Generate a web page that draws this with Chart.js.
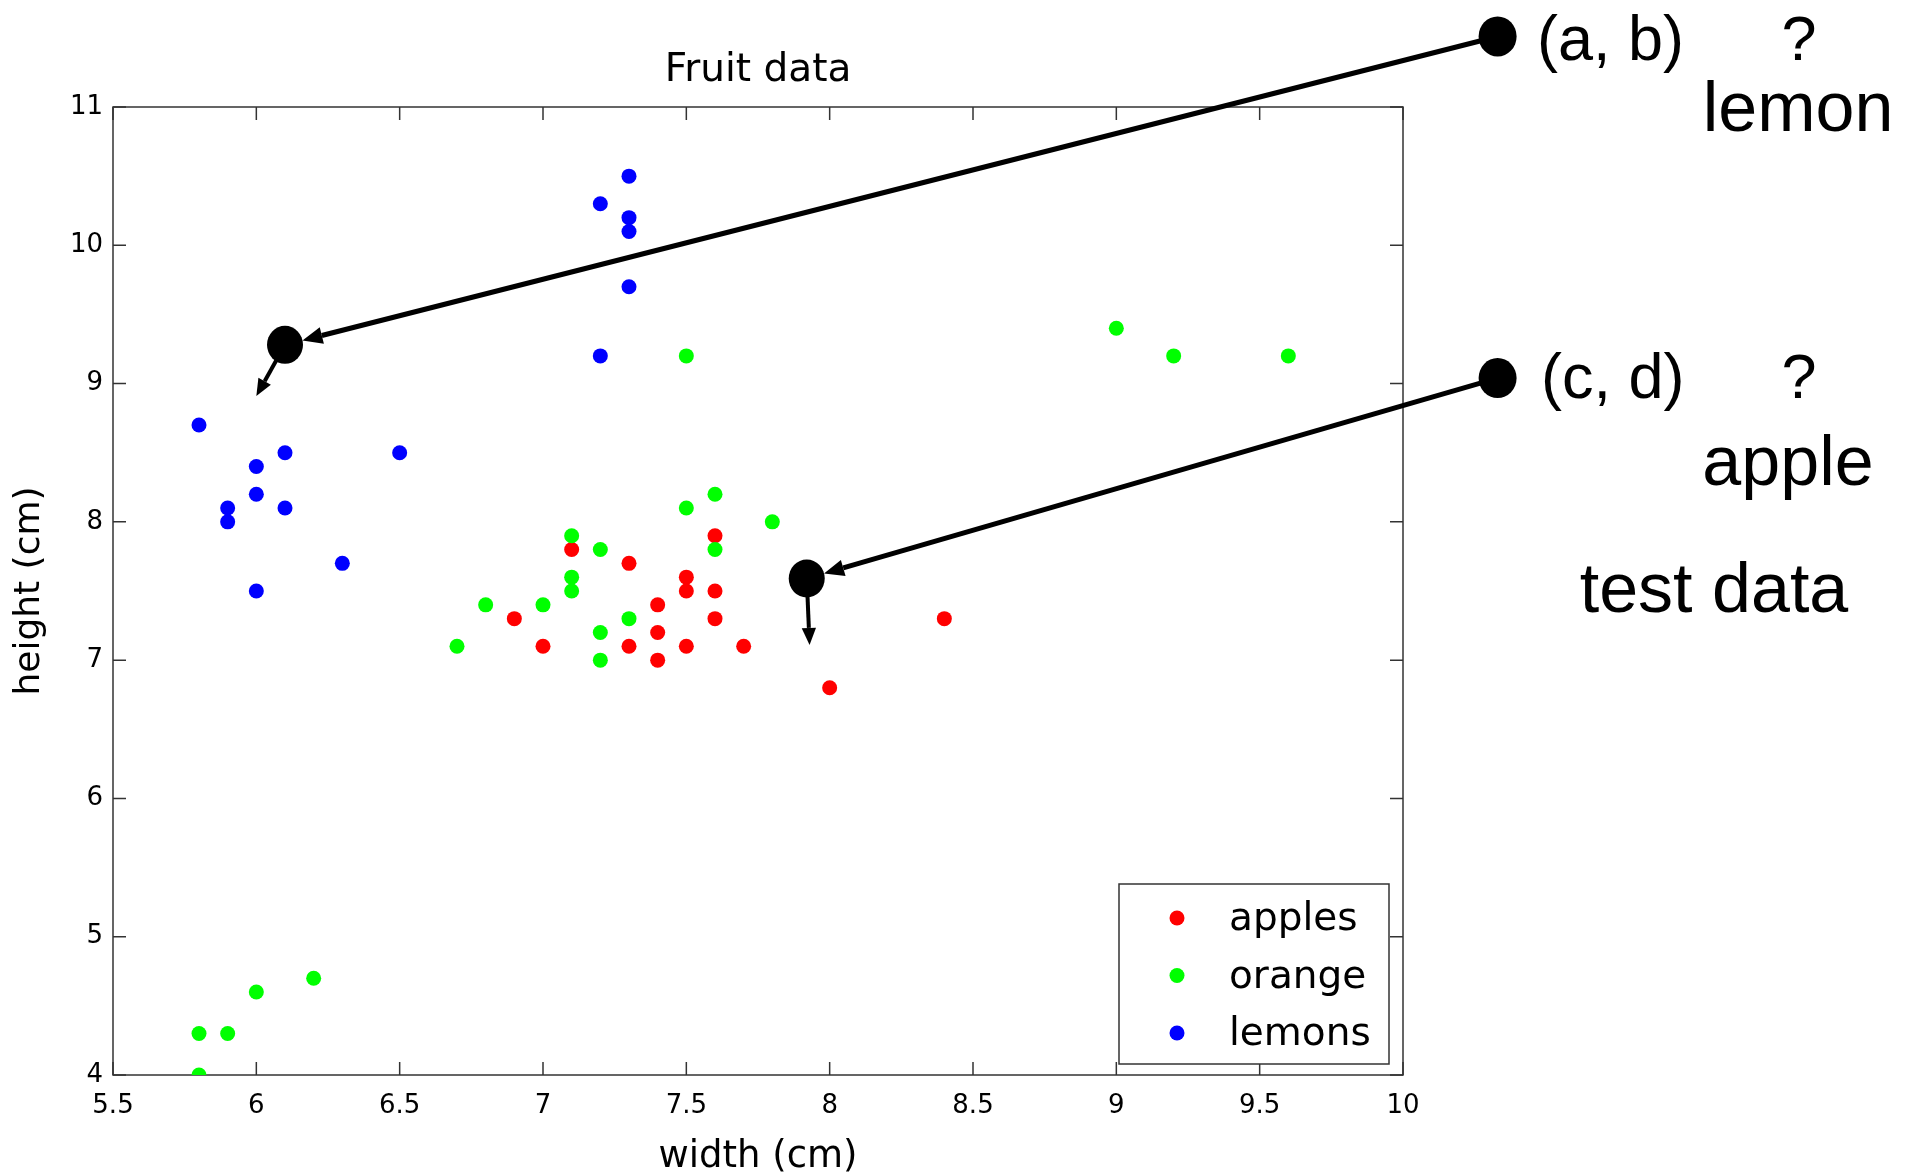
<!DOCTYPE html>
<html>
<head>
<meta charset="utf-8">
<title>Fruit data</title>
<script src="https://cdn.jsdelivr.net/npm/chart.js@4.4.1/dist/chart.umd.min.js"></script>
<style>
  html, body { margin: 0; padding: 0; background: #fff; }
  #wrap { position: relative; width: 1910px; height: 1175px; overflow: hidden; }
  #fruitChart { position: absolute; left: 0; top: 0; }
  .note { position: absolute; font-family: "Liberation Sans", Arial, sans-serif; color: #000; line-height: 1; white-space: nowrap; }
  .mid { transform: translateX(-50%); }
</style>
</head>
<body>
<div id="wrap">
  <canvas id="fruitChart" width="1910" height="1175"></canvas>
  <div class="note" style="left:1537px; top:7px; font-size:63px;">(a, b)</div>
  <div class="note mid" style="left:1799px; top:7px; font-size:63px;">?</div>
  <div class="note mid" style="left:1798px; top:72px; font-size:70px;">lemon</div>
  <div class="note" style="left:1541px; top:345px; font-size:63px;">(c, d)</div>
  <div class="note mid" style="left:1799px; top:345px; font-size:63px;">?</div>
  <div class="note mid" style="left:1788px; top:426px; font-size:70px;">apple</div>
  <div class="note mid" style="left:1714px; top:553px; font-size:70px;">test data</div>
</div>
<script>
// training data: width / height in cm
const appleWidth  = [6.9, 7.0, 7.1, 7.3, 7.3, 7.4, 7.4, 7.4, 7.5, 7.5, 7.5, 7.6, 7.6, 7.6, 7.7, 8.0, 8.4];
const appleHeight = [7.3, 7.1, 7.8, 7.7, 7.1, 7.4, 7.2, 7.0, 7.6, 7.5, 7.1, 7.9, 7.5, 7.3, 7.1, 6.8, 7.3];

const orangeWidth  = [5.8, 5.8, 5.9, 6.0, 6.2, 6.7, 6.8, 7.0, 7.1, 7.1, 7.1, 7.2, 7.2, 7.2, 7.3, 7.5, 7.5, 7.6, 7.6, 7.8, 9.0, 9.2, 9.6];
const orangeHeight = [4.3, 4.0, 4.3, 4.6, 4.7, 7.1, 7.4, 7.4, 7.9, 7.6, 7.5, 7.8, 7.2, 7.0, 7.3, 9.2, 8.1, 8.2, 7.8, 8.0, 9.4, 9.2, 9.2];

const lemonWidth  = [5.8, 5.9, 5.9, 6.0, 6.0, 6.0, 6.1, 6.1, 6.3, 6.5, 7.2, 7.2, 7.3, 7.3, 7.3, 7.3];
const lemonHeight = [8.7, 8.1, 8.0, 8.4, 8.2, 7.5, 8.5, 8.1, 7.7, 8.5, 10.3, 9.2, 10.5, 10.2, 10.1, 9.7];

// test points, the callout dots they come from, and where the short arrows point
const testWidth = [6.1, 7.92];
const testHeight = [9.28, 7.59];
const calloutWidth = [10.33, 10.33];
const calloutHeight = [11.51, 9.04];
const nudgeWidth = [6.0, 7.93];
const nudgeHeight = [8.91, 7.11];

const xTicks = [5.5, 6, 6.5, 7, 7.5, 8, 8.5, 9, 9.5, 10];
const yTicks = [4, 5, 6, 7, 8, 9, 10, 11];

function toPoints(xs, ys) {
    return xs.map((v, i) => ({ x: v, y: ys[i] }));
}

// MATLAB style box with ticks pointing inwards
const boxPlugin = {
    id: 'box',
    beforeDatasetsDraw(chart) {
        const { ctx, chartArea: a, scales: { x, y } } = chart;
        ctx.save();
        ctx.strokeStyle = '#333';
        ctx.lineWidth = 1.5;
        ctx.strokeRect(a.left, a.top, a.right - a.left, a.bottom - a.top);
        ctx.beginPath();
        xTicks.forEach(v => {
            const px = x.getPixelForValue(v);
            ctx.moveTo(px, a.bottom); ctx.lineTo(px, a.bottom - 13);
            ctx.moveTo(px, a.top); ctx.lineTo(px, a.top + 13);
        });
        yTicks.forEach(v => {
            const py = y.getPixelForValue(v);
            ctx.moveTo(a.left, py); ctx.lineTo(a.left + 13, py);
            ctx.moveTo(a.right, py); ctx.lineTo(a.right - 13, py);
        });
        ctx.stroke();
        ctx.restore();
    }
};

// legend box in the lower right corner of the axes
const legendPlugin = {
    id: 'boxLegend',
    afterDatasetsDraw(chart) {
        const { ctx, chartArea: a } = chart;
        const w = 270, h = 180;
        const left = a.right - 14 - w, top = a.bottom - 11 - h;
        ctx.save();
        ctx.fillStyle = '#fff';
        ctx.fillRect(left, top, w, h);
        ctx.strokeStyle = '#333';
        ctx.lineWidth = 1.5;
        ctx.strokeRect(left, top, w, h);
        ctx.font = "39px 'DejaVu Sans', sans-serif";
        ctx.textBaseline = 'middle';
        chart.data.datasets.forEach((ds, i) => {
            const cy = top + 34 + i * 57.5;
            ctx.fillStyle = ds.backgroundColor;
            ctx.beginPath();
            ctx.arc(left + 58, cy, 7.5, 0, Math.PI * 2);
            ctx.fill();
            ctx.fillStyle = '#000';
            ctx.fillText(ds.label, left + 110, cy + 2);
        });
        ctx.restore();
    }
};

function drawArrow(ctx, x0, y0, x1, y1, width, head) {
    const ang = Math.atan2(y1 - y0, x1 - x0);
    const bx = x1 - head * Math.cos(ang), by = y1 - head * Math.sin(ang);
    const hw = head * 0.42;
    ctx.lineWidth = width;
    ctx.beginPath();
    ctx.moveTo(x0, y0);
    ctx.lineTo(bx, by);
    ctx.stroke();
    ctx.beginPath();
    ctx.moveTo(x1, y1);
    ctx.lineTo(bx + hw * Math.sin(ang), by - hw * Math.cos(ang));
    ctx.lineTo(bx - hw * Math.sin(ang), by + hw * Math.cos(ang));
    ctx.closePath();
    ctx.fill();
}

// the test-data callouts
const calloutPlugin = {
    id: 'callouts',
    afterDraw(chart) {
        const { ctx, scales: { x, y } } = chart;
        ctx.save();
        ctx.fillStyle = '#000';
        ctx.strokeStyle = '#000';
        ctx.lineCap = 'butt';
        testWidth.forEach((tw, i) => {
            const tx = x.getPixelForValue(tw), ty = y.getPixelForValue(testHeight[i]);
            const cx = x.getPixelForValue(calloutWidth[i]), cy = y.getPixelForValue(calloutHeight[i]);
            const nx = x.getPixelForValue(nudgeWidth[i]), ny = y.getPixelForValue(nudgeHeight[i]);
            const r = 18;

            let d = Math.hypot(cx - tx, cy - ty);
            drawArrow(ctx, cx, cy, tx + r * (cx - tx) / d, ty + r * (cy - ty) / d, 5, 20);

            d = Math.hypot(nx - tx, ny - ty);
            drawArrow(ctx, tx + r * (nx - tx) / d, ty + r * (ny - ty) / d, nx, ny, 4, 17);

            ctx.beginPath();
            ctx.ellipse(cx, cy, 19, 20, 0, 0, Math.PI * 2);
            ctx.fill();
            ctx.beginPath();
            ctx.ellipse(tx, ty, r, r + 1, 0, 0, Math.PI * 2);
            ctx.fill();
        });
        ctx.restore();
    }
};

document.addEventListener("DOMContentLoaded", () => {
    Chart.defaults.font.family = "'DejaVu Sans', sans-serif";
    Chart.defaults.color = '#000';

    new Chart(document.getElementById('fruitChart'), {
        type: 'scatter',
        data: {
            datasets: [
                { label: 'apples', data: toPoints(appleWidth, appleHeight), backgroundColor: '#ff0000', order: 3 },
                { label: 'orange', data: toPoints(orangeWidth, orangeHeight), backgroundColor: '#00ff00', order: 2 },
                { label: 'lemons', data: toPoints(lemonWidth, lemonHeight), backgroundColor: '#0000ff', order: 1 }
            ]
        },
        options: {
            responsive: false,
            devicePixelRatio: 1,
            animation: false,
            elements: { point: { radius: 7.5, hoverRadius: 7.5, borderWidth: 0 } },
            layout: { padding: { left: 0, right: 507, top: 0, bottom: 0 } },
            plugins: {
                legend: { display: false },
                tooltip: { enabled: false },
                title: { display: false }
            },
            scales: {
                // empty top axis, only used to centre the title over the axes box
                top: {
                    axis: 'x',
                    type: 'linear',
                    position: 'top',
                    min: 5.5,
                    max: 10,
                    afterFit: s => { s.height = 107; },
                    grid: { display: false },
                    border: { display: false },
                    ticks: { display: false },
                    title: { display: true, text: 'Fruit data', font: { size: 39 }, padding: { top: 47, bottom: 0 } }
                },
                x: {
                    type: 'linear',
                    min: 5.5,
                    max: 10,
                    afterBuildTicks: s => { s.ticks = xTicks.map(v => ({ value: v })); },
                    afterFit: s => { s.height = 100; },
                    grid: { display: false },
                    border: { display: false },
                    ticks: { font: { size: 26 }, padding: 8, maxRotation: 0, callback: v => String(v) },
                    title: { display: true, text: 'width (cm)', font: { size: 37 }, padding: { top: 0, bottom: -5 } }
                },
                y: {
                    type: 'linear',
                    min: 4,
                    max: 11,
                    afterBuildTicks: s => { s.ticks = yTicks.map(v => ({ value: v })); },
                    afterFit: s => { s.width = 113; },
                    grid: { display: false },
                    border: { display: false },
                    ticks: { font: { size: 26 }, padding: 2, callback: v => String(v) },
                    title: { display: true, text: 'height (cm)', font: { size: 36 }, padding: { top: 8, bottom: 0 } }
                }
            }
        },
        plugins: [boxPlugin, legendPlugin, calloutPlugin]
    });
});
</script>
</body>
</html>
